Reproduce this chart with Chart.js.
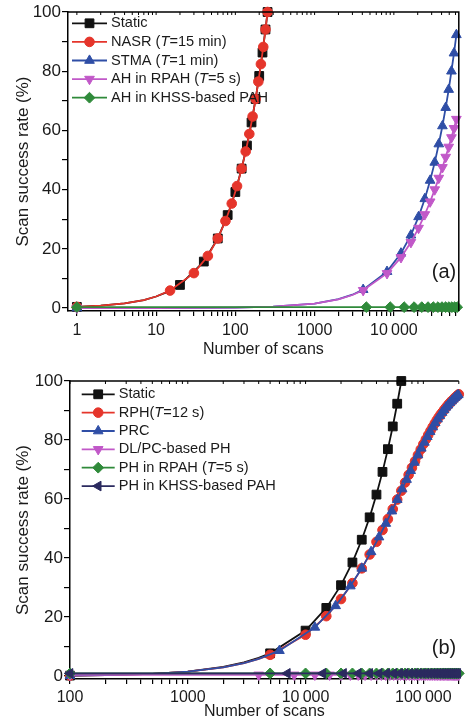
<!DOCTYPE html>
<html lang="en">
<head>
<meta charset="UTF-8">
<title>Scan success rate</title>
<style>
    body { margin: 0; background: #fff; overflow: hidden; }
    .wrap { position: absolute; left: 0; width: 466px; }
    #wrapA { top: 0; height: 362px; }
    #wrapB { top: 362px; height: 360px; }
</style>
</head>
<body>
<div class="wrap" id="wrapA"><canvas id="chartA"></canvas></div>
<div class="wrap" id="wrapB"><canvas id="chartB"></canvas></div>
<script src="https://cdn.jsdelivr.net/npm/chart.js"></script>
<script>

// ---- panel (a) ----
const aTicks = [1, 2, 3, 4, 5, 6, 7, 8, 9, 10, 20, 30, 40, 50, 60, 70, 80, 90,
    100, 200, 300, 400, 500, 600, 700, 800, 900, 1000, 2000, 3000, 4000, 5000, 6000, 7000, 8000, 9000,
    10000, 20000, 30000, 40000, 50000, 60000];

const aStaticX = [1, 20, 40, 60, 80, 100, 120, 140, 160, 180, 200, 220, 240, 255];
const aStaticY = [0.4, 7.8, 15.7, 23.5, 31.4, 39.2, 47.1, 54.9, 62.7, 70.6, 78.4, 86.3, 94.1, 100];
const aStaticCurveX = [2, 4, 7, 10, 13, 16];
const aStaticCurveY = [0.8, 1.6, 2.7, 3.9, 5.1, 6.3];

const aNasrX = [1, 15, 30, 45, 60, 75, 90, 105, 120, 135, 150, 165, 180, 195, 210, 225, 240, 255];
const aNasrY = [0.4, 5.9, 11.8, 17.6, 23.5, 29.4, 35.3, 41.2, 47.1, 52.9, 58.8, 64.7, 70.6, 76.5, 82.4, 88.2, 94.1, 100];
const aNasrCurveX = [2, 4, 7, 10];
const aNasrCurveY = [0.8, 1.6, 2.7, 3.9];

const aStmaX = [1, 4100, 8200, 12300, 16400, 20500, 24600, 28700, 32800, 36900, 41000, 45100, 49200, 53300, 57400, 61500];
const aStmaY = [0, 6.2, 12.3, 18.5, 24.6, 30.8, 36.9, 43.1, 49.2, 55.4, 61.5, 67.7, 73.8, 80.0, 86.1, 92.3];
const aStmaCurveX = [10, 100, 300, 1000, 2000, 3000];
const aStmaCurveY = [0.02, 0.15, 0.45, 1.5, 3.0, 4.5];

const aRpahX = [1, 4100, 8200, 12300, 16400, 20500, 24600, 28700, 32800, 36900, 41000, 45100, 49200, 53300, 57400, 61500];
const aRpahY = [0, 6.0, 11.7, 17.1, 22.2, 27.0, 31.6, 35.9, 40.0, 43.9, 47.5, 51.0, 54.4, 57.6, 60.7, 63.8];
const aRpahCurveX = [10, 100, 300, 1000, 2000, 3000];
const aRpahCurveY = [0.02, 0.15, 0.45, 1.5, 2.9, 4.4];

const aKhssX = [1, 4500, 9000, 13500, 18000, 22500, 27000, 31500, 36000, 40500, 45000, 49500, 54000, 58500, 63000];
const aKhssY = [0.3, 0.3, 0.3, 0.3, 0.3, 0.3, 0.3, 0.3, 0.3, 0.3, 0.3, 0.3, 0.3, 0.3, 0.3];

// ---- panel (b) ----
const bTicks = [100, 200, 300, 400, 500, 600, 700, 800, 900, 1000, 2000, 3000, 4000, 5000, 6000, 7000, 8000, 9000,
    10000, 20000, 30000, 40000, 50000, 60000, 70000, 80000, 90000, 100000, 200000];

const bStaticX = [100, 5000, 10000, 15000, 20000, 25000, 30000, 35000, 40000, 45000, 50000, 55000, 60000, 65000];
const bStaticY = [0.15, 7.7, 15.4, 23.1, 30.8, 38.5, 46.2, 53.8, 61.5, 69.2, 76.9, 84.6, 92.3, 100];
const bStaticCurveX = [200, 500, 1000, 2000, 3000, 4000];
const bStaticCurveY = [0.3, 0.77, 1.5, 3.1, 4.6, 6.2];

const bRphX = [100, 5000, 10000, 15000, 20000, 25000, 30000, 35000, 40000, 45000, 50000, 55000, 60000, 65000,
    70000, 75000, 80000, 85000, 90000, 95000, 100000, 105000, 110000, 115000, 120000, 125000, 130000, 135000,
    140000, 145000, 150000, 155000, 160000, 165000, 170000, 175000, 180000, 185000, 190000, 195000, 200000];
const bRphY = [0.15, 7.2, 14.0, 20.3, 26.1, 31.5, 36.5, 41.2, 45.5, 49.5, 53.2, 56.6, 59.8, 62.8,
    65.6, 68.2, 70.6, 72.8, 74.9, 76.8, 78.6, 80.2, 81.7, 83.1, 84.4, 85.6, 86.7, 87.7,
    88.6, 89.4, 90.2, 90.9, 91.6, 92.2, 92.8, 93.3, 93.8, 94.3, 94.7, 95.1, 95.5];

const bPrcX = [100, 6000, 12000, 18000, 24000, 30000, 36000, 42000, 48000, 54000, 60000, 66000, 72000, 78000,
    84000, 90000, 96000, 102000, 108000, 114000, 120000, 126000, 132000, 138000, 144000, 150000, 156000,
    162000, 168000, 174000, 180000, 186000, 192000, 198000];
const bPrcY = [0.15, 8.6, 16.5, 23.8, 30.5, 36.5, 42.1, 47.1, 51.7, 55.9, 59.8, 63.4, 66.6, 69.6,
    72.4, 74.9, 77.2, 79.2, 81.1, 82.8, 84.4, 85.8, 87.1, 88.2, 89.3, 90.2, 91.1,
    91.8, 92.6, 93.2, 93.8, 94.4, 94.9, 95.3];
const bFitCurveX = [200, 500, 1000, 2000, 3000, 4000];
const bFitCurveY = [0.3, 0.75, 1.5, 2.95, 4.4, 5.8];

const bDlpcX = [100, 4000, 8000, 12000, 16000, 20000, 24000, 28000, 32000, 36000, 40000, 44000, 48000, 52000,
    56000, 60000, 64000, 68000, 72000, 76000, 80000, 84000, 88000, 92000, 96000, 100000, 104000, 108000,
    112000, 116000, 120000, 124000, 128000, 132000, 136000, 140000, 144000, 148000, 152000, 156000, 160000,
    164000, 168000, 172000, 176000, 180000, 184000, 188000, 192000, 196000, 200000];
const bDlpcY = [0.4, 0.4, 0.4, 0.4, 0.4, 0.4, 0.4, 0.4, 0.4, 0.4, 0.4, 0.4, 0.4, 0.4, 0.4, 0.4, 0.4,
    0.4, 0.4, 0.4, 0.4, 0.4, 0.4, 0.4, 0.4, 0.4, 0.4, 0.4, 0.4, 0.4, 0.4, 0.4, 0.4, 0.4, 0.4, 0.4, 0.4,
    0.4, 0.4, 0.4, 0.4, 0.4, 0.4, 0.4, 0.4, 0.4, 0.4, 0.4, 0.4, 0.4, 0.4];

const bRpahX = [100, 5000, 10000, 15000, 20000, 25000, 30000, 35000, 40000, 45000, 50000, 55000, 60000, 65000,
    70000, 75000, 80000, 85000, 90000, 95000, 100000, 105000, 110000, 115000, 120000, 125000, 130000, 135000,
    140000, 145000, 150000, 155000, 160000, 165000, 170000, 175000, 180000, 185000, 190000, 195000, 200000];
const bRpahY = [0.9, 0.9, 0.9, 0.9, 0.9, 0.9, 0.9, 0.9, 0.9, 0.9, 0.9, 0.9, 0.9, 0.9, 0.9, 0.9, 0.9,
    0.9, 0.9, 0.9, 0.9, 0.9, 0.9, 0.9, 0.9, 0.9, 0.9, 0.9, 0.9, 0.9, 0.9, 0.9, 0.9, 0.9, 0.9, 0.9, 0.9,
    0.9, 0.9, 0.9, 0.9];

const bKhssX = [100, 7000, 14000, 21000, 28000, 35000, 42000, 49000, 56000, 63000, 70000, 77000, 84000, 91000,
    98000, 105000, 112000, 119000, 126000, 133000, 140000, 147000, 154000, 161000, 168000, 175000, 182000,
    189000, 196000];
const bKhssY = [0.9, 0.9, 0.9, 0.9, 0.9, 0.9, 0.9, 0.9, 0.9, 0.9, 0.9, 0.9, 0.9, 0.9, 0.9, 0.9, 0.9,
    0.9, 0.9, 0.9, 0.9, 0.9, 0.9, 0.9, 0.9, 0.9, 0.9, 0.9, 0.9];

const yTicks = [0, 10, 20, 30, 40, 50, 60, 70, 80, 90, 100];

const FAMILY = "'Liberation Sans', Arial, sans-serif";
const INK = '#1a1a1a';
Chart.defaults.font.family = FAMILY;
Chart.defaults.color = INK;

const C_BLACK = '#111111';
const C_RED = '#e5352b';
const C_BLUE = '#2f4ea6';
const C_MAGENTA = '#c158c8';
const C_GREEN = '#2f8a3a';
const C_NAVY = '#2b2a5f';

function series(label, color, style, rot, r, mx, my, cx, cy, order) {
    const pts = mx.map((x, i) => ({x: x, y: my[i], r: r}));
    (cx || []).forEach((x, i) => pts.push({x: x, y: cy[i], r: 0}));
    pts.sort((p, q) => p.x - q.x);
    return {
        label: label,
        data: pts.map(p => ({x: p.x, y: p.y})),
        borderColor: color,
        backgroundColor: color,
        pointBackgroundColor: color,
        pointBorderColor: color,
        pointStyle: style,
        pointRotation: rot,
        pointRadius: pts.map(p => p.r),
        pointBorderWidth: 1,
        borderWidth: 1.8,
        tension: 0,
        legendRadius: r,
        order: order,
        clip: 8
    };
}

function decadeLabel(v) {
    const e = Math.log10(v);
    if (Math.abs(e - Math.round(e)) > 1e-9) return '';
    const s = String(Math.round(v));
    return v >= 10000 ? s.replace(/\B(?=(\d{3})+(?!\d))/g, '\u2009') : s;
}

// box top/right + panel tag
const frame = {
    id: 'frame',
    afterDatasetsDraw(chart, args, o) {
        const ctx = chart.ctx, a = chart.chartArea, xs = chart.scales.x;
        ctx.save();
        ctx.strokeStyle = '#000';
        ctx.lineWidth = 1.5;
        ctx.beginPath();
        ctx.moveTo(a.left, a.top);
        ctx.lineTo(a.right, a.top);
        if (o.right) ctx.lineTo(a.right, a.bottom);
        ctx.stroke();
        ctx.lineWidth = 1;
        ctx.beginPath();
        xs.ticks.forEach(t => {
            const px = xs.getPixelForValue(t.value);
            ctx.moveTo(px, a.top);
            ctx.lineTo(px, a.top + 3);
        });
        ctx.stroke();
        ctx.fillStyle = INK;
        ctx.font = '20px ' + FAMILY;
        ctx.textAlign = 'center';
        ctx.textBaseline = 'middle';
        ctx.fillText(o.tag, o.tagX, o.tagY);
        ctx.restore();
    }
};

// legend with line through marker and italic T
const curveLegend = {
    id: 'curveLegend',
    afterDraw(chart, args, o) {
        const ctx = chart.ctx;
        chart.data.datasets.forEach((ds, i) => {
            const y = o.top + i * o.step;
            ctx.save();
            ctx.strokeStyle = ds.borderColor;
            ctx.lineWidth = 1.8;
            ctx.beginPath();
            ctx.moveTo(o.left, y);
            ctx.lineTo(o.left + o.len, y);
            ctx.stroke();
            ctx.fillStyle = ds.pointBackgroundColor;
            ctx.strokeStyle = ds.pointBorderColor;
            ctx.lineWidth = 1;
            Chart.helpers.drawPoint(ctx, {
                pointStyle: ds.pointStyle, rotation: ds.pointRotation || 0,
                radius: ds.legendRadius, borderWidth: 1
            }, o.left + o.len / 2, y);
            let x = o.left + o.len + o.gap;
            ctx.fillStyle = INK;
            ctx.textAlign = 'left';
            ctx.textBaseline = 'middle';
            ds.label.split(/(T(?==))/).forEach(part => {
                if (!part) return;
                ctx.font = (part === 'T' ? 'italic ' : '') + o.size + 'px ' + FAMILY;
                ctx.fillText(part, x, y);
                x += ctx.measureText(part).width;
            });
            ctx.restore();
        });
    }
};

function makeOptions(p) {
    return {
        responsive: true,
        maintainAspectRatio: false,
        animation: false,
        devicePixelRatio: 1,
        layout: { padding: { top: p.top, right: p.right, left: 0, bottom: 0 } },
        plugins: {
            legend: { display: false },
            tooltip: { enabled: false },
            frame: p.frame,
            curveLegend: p.legend
        },
        scales: {
            x: {
                type: 'logarithmic',
                min: p.xMin,
                max: p.xMax,
                afterFit: s => { s.height = p.xHeight; },
                afterBuildTicks: s => { s.ticks = p.xTicks.map(v => ({value: v})); },
                ticks: {
                    autoSkip: false, maxRotation: 0, minRotation: 0,
                    padding: p.xPad, color: INK,
                    font: { size: 16 },
                    callback: v => decadeLabel(v)
                },
                grid: { display: true, drawOnChartArea: false, drawTicks: true, tickLength: 5, color: '#000', lineWidth: 1.2 },
                border: { display: true, color: '#000', width: 1.5 },
                title: { display: true, text: 'Number of scans', color: INK, font: { size: 16 }, padding: { top: 0, bottom: p.xTitlePad } }
            },
            y: {
                min: -1,
                max: 100,
                afterFit: s => { s.width = p.yWidth; },
                afterBuildTicks: s => { s.ticks = yTicks.map(v => ({value: v})); },
                ticks: {
                    autoSkip: false, padding: 1, color: INK,
                    font: { size: 17 },
                    callback: v => (v % 20 === 0 ? String(v) : '')
                },
                grid: { display: true, drawOnChartArea: false, drawTicks: true, tickLength: 6, color: '#000', lineWidth: 1.2 },
                border: { display: true, color: '#000', width: 1.5 },
                title: { display: true, text: 'Scan success rate (%)', color: INK, font: { size: 17 }, padding: { top: 13, bottom: 0 } }
            }
        }
    };
}

new Chart(document.getElementById('chartA'), {
    type: 'line',
    data: {
        datasets: [
            series('Static', C_BLACK, 'rect', 0, 6.2, aStaticX, aStaticY, aStaticCurveX, aStaticCurveY, 5),
            series('NASR (T=15 min)', C_RED, 'circle', 0, 4.8, aNasrX, aNasrY, aNasrCurveX, aNasrCurveY, 4),
            series('STMA (T=1 min)', C_BLUE, 'triangle', 0, 5.6, aStmaX, aStmaY, aStmaCurveX, aStmaCurveY, 3),
            series('AH in RPAH (T=5 s)', C_MAGENTA, 'triangle', 180, 5.6, aRpahX, aRpahY, aRpahCurveX, aRpahCurveY, 2),
            series('AH in KHSS-based PAH', C_GREEN, 'rectRot', 0, 5.4, aKhssX, aKhssY, null, null, 1)
        ]
    },
    options: makeOptions({
        top: 12, right: 1, xMin: 0.773, xMax: 66000, xTicks: aTicks,
        xHeight: 51, xPad: 5, xTitlePad: 3, yWidth: 68,
        frame: { right: true, tag: '(a)', tagX: 444, tagY: 272 },
        legend: { left: 72, len: 35, gap: 4, top: 23.3, step: 18.6, size: 14.6 }
    }),
    plugins: [frame, curveLegend]
});

new Chart(document.getElementById('chartB'), {
    type: 'line',
    data: {
        datasets: [
            series('Static', C_BLACK, 'rect', 0, 6.2, bStaticX, bStaticY, bStaticCurveX, bStaticCurveY, 6),
            series('RPH(T=12 s)', C_RED, 'circle', 0, 4.8, bRphX, bRphY, bFitCurveX, bFitCurveY, 5),
            series('PRC', C_BLUE, 'triangle', 0, 5.6, bPrcX, bPrcY, bFitCurveX, bFitCurveY, 4),
            series('DL/PC-based PH', C_MAGENTA, 'triangle', 180, 5.6, bDlpcX, bDlpcY, null, null, 3),
            series('PH in RPAH (T=5 s)', C_GREEN, 'rectRot', 0, 5.4, bRpahX, bRpahY, null, null, 2),
            series('PH in KHSS-based PAH', C_NAVY, 'triangle', -90, 5.6, bKhssX, bKhssY, null, null, 1)
        ]
    },
    options: makeOptions({
        top: 19, right: 0, xMin: 100, xMax: 200000, xTicks: bTicks,
        xHeight: 43, xPad: 4, xTitlePad: 1, yWidth: 70,
        frame: { right: false, tag: '(b)', tagX: 444, tagY: 286 },
        legend: { left: 81.7, len: 33, gap: 4, top: 32.3, step: 18.35, size: 14.6 }
    }),
    plugins: [frame, curveLegend]
});

</script>
</body>
</html>
